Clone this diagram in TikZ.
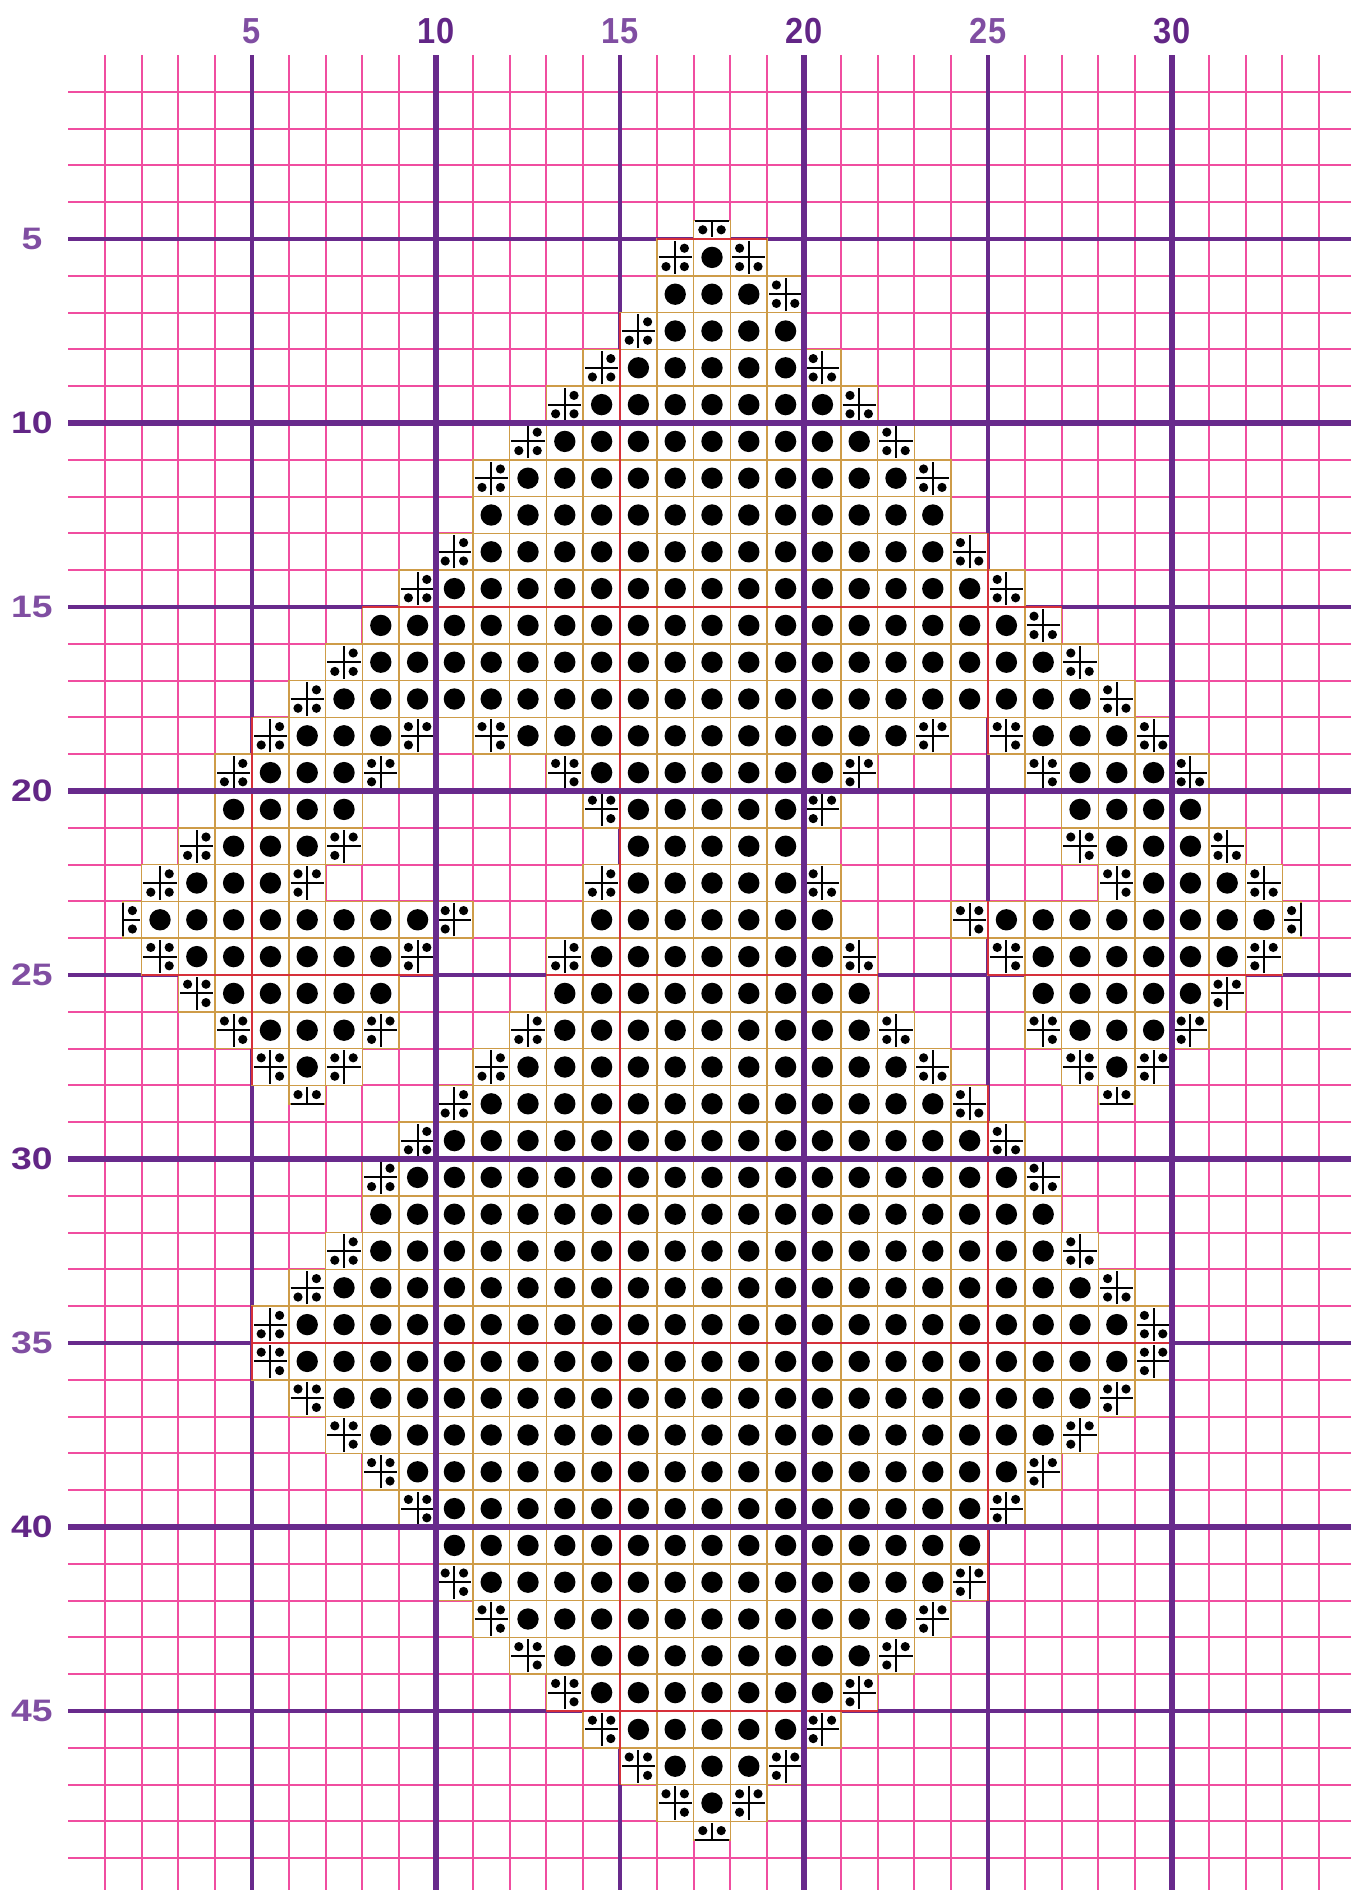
\documentclass[tikz,border=0pt]{standalone}
\usepackage{fontspec}
\setmainfont{Liberation Sans}
\newfontfamily\topfont[FakeStretch=0.9]{Liberation Sans}
\newfontfamily\sidefont[FakeStretch=1.2]{Liberation Sans}
\usepackage{xcolor}
\usepackage{tikz}

\definecolor{gridpink}{RGB}{240,78,160}
\definecolor{gridpurple}{RGB}{104,42,140}
\definecolor{labeldark}{RGB}{98,38,134}
\definecolor{labellight}{RGB}{128,78,162}
\definecolor{celltan}{RGB}{206,156,72}
\definecolor{fivered}{RGB}{214,48,58}

\tikzset{
  thinline/.style={gridpink, line width=1.6pt},
  fiveline/.style={gridpurple, line width=2.4pt},
  tenline/.style={gridpurple, line width=4.2pt},
  redline/.style={fivered, line width=1.8pt},
  cellbox/.style={fill=white, draw=celltan, line width=1.3pt},
  crossline/.style={black, line width=1.6pt},
  toplabfive/.style={labellight, font=\topfont\bfseries\fontsize{28}{28}\selectfont},
  toplabten/.style={labeldark, font=\topfont\bfseries\fontsize{28}{28}\selectfont},
  sidelabfive/.style={labellight, font=\sidefont\bfseries\fontsize{24}{24}\selectfont},
  sidelabten/.style={labeldark, font=\sidefont\bfseries\fontsize{24}{24}\selectfont}
}

% full stitch: col, row
\newcommand{\fullst}[2]{%
  \draw[cellbox] (#1-1,-#2) rectangle (#1,-#2+1);
  \fill (#1-0.5,-#2+0.5) circle (0.29);}

% three quarter stitch: col, row, x and y sign of the empty quarter
\newcommand{\quarterst}[4]{%
  \draw[cellbox] (#1-1,-#2) rectangle (#1,-#2+1);
  \begin{scope}[shift={(#1-0.5,-#2+0.5)}]
    \draw[crossline] (-0.45,0) -- (0.45,0) (0,-0.45) -- (0,0.45);
    \fill ({-0.25*(#3)},{0.25*(#4)}) circle (0.125)
          ({0.25*(#3)},{-0.25*(#4)}) circle (0.125)
          ({-0.25*(#3)},{-0.25*(#4)}) circle (0.125);
  \end{scope}}

% red edges where a stitched cell sits on a line of five
\newcommand{\rededges}[2]{%
  \pgfmathtruncatemacro\edgel{mod(#1-1,10)==5}%
  \pgfmathtruncatemacro\edger{mod(#1,10)==5}%
  \pgfmathtruncatemacro\edget{mod(#2-1,10)==5}%
  \pgfmathtruncatemacro\edgeb{mod(#2,10)==5}%
  \ifnum\edgel=1 \draw[redline] (#1-1,-#2) -- (#1-1,-#2+1);\fi
  \ifnum\edger=1 \draw[redline] (#1,-#2) -- (#1,-#2+1);\fi
  \ifnum\edget=1 \draw[redline] (#1-1,-#2+1) -- (#1,-#2+1);\fi
  \ifnum\edgeb=1 \draw[redline] (#1-1,-#2) -- (#1,-#2);\fi}

% row/first col/last col
\newcommand{\dotruns}{6/18/18, 7/17/19, 8/17/20, 9/16/20, 10/15/21, 11/14/22, 12/13/23,
  13/12/24, 14/12/24, 15/11/25, 16/9/26, 17/9/27, 18/8/28,
  19/7/9, 19/13/23, 19/27/29, 20/6/8, 20/15/21, 20/28/30,
  21/5/8, 21/16/20, 21/28/31, 22/5/7, 22/16/20, 22/29/31,
  23/4/6, 23/16/20, 23/30/32, 24/3/10, 24/15/21, 24/26/33,
  25/4/9, 25/15/21, 25/27/32, 26/5/9, 26/14/22, 26/27/31,
  27/6/8, 27/14/22, 27/28/30, 28/7/7, 28/13/23, 28/29/29,
  29/12/24, 30/11/25, 31/10/26, 32/9/27, 33/9/27, 34/8/28, 35/7/29,
  36/7/29, 37/8/28, 38/9/27, 39/10/26, 40/11/25, 41/11/25, 42/12/24,
  43/13/23, 44/14/22, 45/15/21, 46/16/20, 47/17/19, 48/18/18}

% col/row
\newcommand{\emptytl}{17/6, 16/8, 15/9, 14/10, 13/11, 12/12, 11/14, 10/15, 8/17, 7/18,
  6/19, 5/20, 4/22, 3/23, 15/23, 14/25, 13/27, 12/28, 11/29, 10/30, 9/31, 8/33, 7/34, 6/35}
\newcommand{\emptytr}{19/6, 20/7, 21/9, 22/10, 23/11, 24/12, 25/14, 26/15, 27/16, 28/17,
  29/18, 30/19, 31/20, 32/22, 33/23, 21/23, 22/25, 23/27, 24/28, 25/29, 26/30, 27/31,
  28/33, 29/34, 30/35}
\newcommand{\emptybl}{12/19, 26/19, 14/20, 27/20, 15/21, 28/22, 29/23, 25/24, 3/25, 26/25,
  4/26, 5/27, 27/27, 6/28, 28/28, 6/36, 7/37, 8/38, 9/39, 10/40, 11/42, 12/43, 13/44,
  14/45, 15/46, 16/47, 17/48}
\newcommand{\emptybr}{10/19, 24/19, 9/20, 22/20, 21/21, 8/22, 7/23, 11/24, 10/25, 33/25,
  32/26, 9/27, 31/27, 8/28, 30/28, 30/36, 29/37, 28/38, 27/39, 26/40, 25/42, 24/43,
  23/44, 22/45, 21/46, 20/47, 19/48}

\begin{document}
\begin{tikzpicture}
    \path[use as bounding box, fill=white] (-1.848,-49.864) rectangle (34.864,1.495);

    \foreach \k in {1,...,49} {\draw[thinline] (0,-\k) -- (35,-\k);}
    \foreach \k in {1,...,34} {\draw[thinline] (\k,0) -- (\k,-50.5);}
    \foreach \k in {5,15,25} {\draw[fiveline] (\k,0) -- (\k,-50.5);}
    \foreach \k in {5,15,25,35,45} {\draw[fiveline] (0,-\k) -- (35,-\k);}

    \foreach \r/\a/\b in \dotruns {\foreach \c in {\a,...,\b} {\fullst{\c}{\r}}}
    \foreach \c/\r in \emptytl {\quarterst{\c}{\r}{-1}{1}}
    \foreach \c/\r in \emptytr {\quarterst{\c}{\r}{1}{1}}
    \foreach \c/\r in \emptybl {\quarterst{\c}{\r}{-1}{-1}}
    \foreach \c/\r in \emptybr {\quarterst{\c}{\r}{1}{-1}}

    \draw[cellbox] (17,-5) rectangle (18,-4.5);
    \draw[crossline] (17.05,-4.5) -- (17.95,-4.5) (17.5,-4.5) -- (17.5,-4.95);
    \fill (17.25,-4.75) circle (0.125) (17.75,-4.75) circle (0.125);
    \draw[cellbox] (17,-48.5) rectangle (18,-48);
    \draw[crossline] (17.05,-48.5) -- (17.95,-48.5) (17.5,-48.5) -- (17.5,-48.05);
    \fill (17.25,-48.25) circle (0.125) (17.75,-48.25) circle (0.125);
    \draw[cellbox] (6,-28.5) rectangle (7,-28);
    \draw[crossline] (6.05,-28.5) -- (6.95,-28.5) (6.5,-28.5) -- (6.5,-28.05);
    \fill (6.25,-28.25) circle (0.125) (6.75,-28.25) circle (0.125);
    \draw[cellbox] (28,-28.5) rectangle (29,-28);
    \draw[crossline] (28.05,-28.5) -- (28.95,-28.5) (28.5,-28.5) -- (28.5,-28.05);
    \fill (28.25,-28.25) circle (0.125) (28.75,-28.25) circle (0.125);
    \draw[cellbox] (1.5,-24) rectangle (2,-23);
    \draw[crossline] (1.5,-23.05) -- (1.5,-23.95) (1.5,-23.5) -- (1.95,-23.5);
    \fill (1.75,-23.25) circle (0.125) (1.75,-23.75) circle (0.125);
    \draw[cellbox] (33,-24) rectangle (33.5,-23);
    \draw[crossline] (33.5,-23.05) -- (33.5,-23.95) (33.05,-23.5) -- (33.5,-23.5);
    \fill (33.25,-23.25) circle (0.125) (33.25,-23.75) circle (0.125);

    \foreach \r/\a/\b in \dotruns {\foreach \c in {\a,...,\b} {\rededges{\c}{\r}}}
    \foreach \c/\r in \emptytl {\rededges{\c}{\r}}
    \foreach \c/\r in \emptytr {\rededges{\c}{\r}}
    \foreach \c/\r in \emptybl {\rededges{\c}{\r}}
    \foreach \c/\r in \emptybr {\rededges{\c}{\r}}
    \draw[redline] (17,-5) -- (18,-5);

    \foreach \k in {10,20,30} {\draw[tenline] (\k,0) -- (\k,-50.5);}
    \foreach \k in {10,20,30,40} {\draw[tenline] (0,-\k) -- (35,-\k);}

    \foreach \k in {5,15,25} {\node[toplabfive] (top\k) at (\k,0.65) {\k};}
    \foreach \k in {10,20,30} {\node[toplabten] (top\k) at (\k,0.65) {\k};}
    \foreach \k in {5,15,...,45} {\node[sidelabfive] (side\k) at (-0.98,-\k) {\k};}
    \foreach \k in {10,20,30,40} {\node[sidelabten] (side\k) at (-0.98,-\k) {\k};}
\end{tikzpicture}
\end{document}
